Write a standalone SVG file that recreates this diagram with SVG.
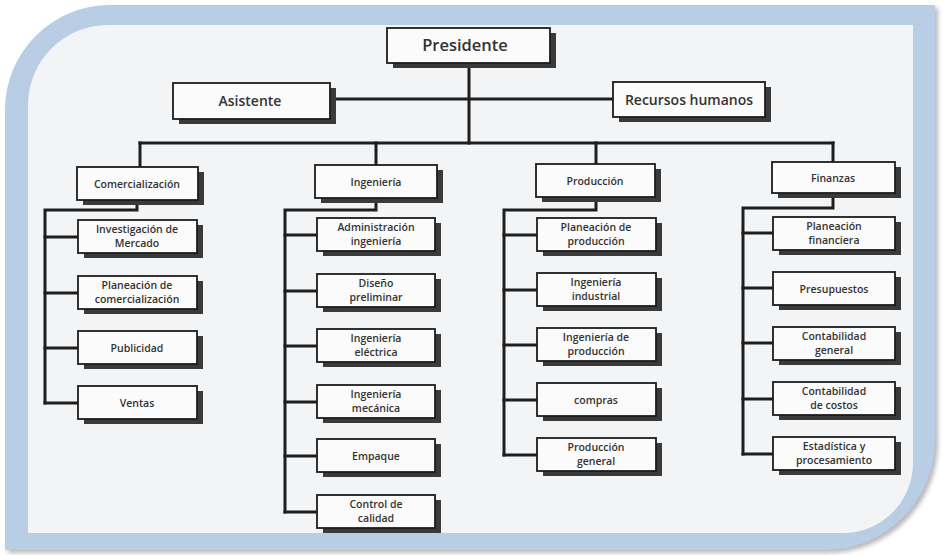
<svg xmlns="http://www.w3.org/2000/svg" width="943" height="555" viewBox="0 0 943 555">
<defs>
<filter id="fs" x="-5%" y="-5%" width="110%" height="110%"><feGaussianBlur stdDeviation="2"/></filter>
<style>
.box{fill:#fbfbfb;stroke:#1c1c1c;stroke-width:1.8}
.sh{fill:#3a3a3a}
.t{font-family:"Open Sans","Liberation Sans",sans-serif;font-size:10.5px;font-weight:600;fill:#333;text-anchor:middle}
.tb{font-size:14px}
.tp{font-size:16.5px}
.c{stroke:#1e1e1e;stroke-width:3;fill:none;stroke-linecap:square}
</style>
</defs>
<rect width="943" height="555" fill="#ffffff"/>
<path d="M8 113 A105 105 0 0 1 113 8 H938 V443 A110 110 0 0 1 828 553 H8 Z" fill="#8a8a8a" opacity="0.6" filter="url(#fs)"/>
<path d="M5 110 A105 105 0 0 1 110 5 H935 V440 A110 110 0 0 1 825 550 H5 Z" fill="#b9cde5"/>
<path d="M28 105 A80 80 0 0 1 108 25 H913 V463 A70 70 0 0 1 843 533 H28 Z" fill="#f3f4f6"/>

<g id="connectors" class="c">
<path d="M469 63 V143"/>
<path d="M330 99 H613"/>
<path d="M140 143 H833"/>
<path d="M140 143 V167 M376 143 V165 M596 143 V164 M833 143 V162"/>
<path d="M137 200 V210 H45 V403"/>
<path d="M45 237 H78 M45 293 H78 M45 348 H78 M45 403 H78"/>
<path d="M376 198 V210 H285 V512"/>
<path d="M285 235 H317 M285 291 H317 M285 346 H317 M285 402 H317 M285 456 H317 M285 512 H317"/>
<path d="M596 197 V210 H504 V455"/>
<path d="M504 235 H537 M504 290 H537 M504 345 H537 M504 400 H537 M504 455 H537"/>
<path d="M833 193 V208 H743 V454"/>
<path d="M743 233 H773 M743 288 H773 M743 343 H773 M743 399 H773 M743 454 H773"/>
</g>

<g id="presidente"><rect class="sh" x="393" y="33" width="163" height="35"/><rect class="box" x="387" y="28" width="163" height="35"/><text class="t tp" x="465" y="51">Presidente</text></g>
<g id="asistente"><rect class="sh" x="179" y="88" width="157" height="36"/><rect class="box" x="173" y="83" width="157" height="36"/><text class="t tb" x="250" y="106">Asistente</text></g>
<g id="rrhh"><rect class="sh" x="619" y="87" width="152" height="35"/><rect class="box" x="613" y="82" width="152" height="35"/><text class="t tb" x="689" y="105">Recursos humanos</text></g>

<g id="comercializacion"><rect class="sh" x="83" y="172" width="121" height="33"/><rect class="box" x="77" y="167" width="121" height="33"/><text class="t" x="137" y="188">Comercialización</text></g>
<g id="ingenieria"><rect class="sh" x="321" y="170" width="122" height="33"/><rect class="box" x="315" y="165" width="122" height="33"/><text class="t" x="376" y="186">Ingeniería</text></g>
<g id="produccion"><rect class="sh" x="542" y="169" width="119" height="33"/><rect class="box" x="536" y="164" width="119" height="33"/><text class="t" x="595" y="185">Producción</text></g>
<g id="finanzas"><rect class="sh" x="778" y="167" width="123" height="31"/><rect class="box" x="772" y="162" width="123" height="31"/><text class="t" x="833" y="182">Finanzas</text></g>

<g id="inv-mercado"><rect class="sh" x="84" y="225" width="119" height="33"/><rect class="box" x="78" y="220" width="119" height="33"/><text class="t" x="137" y="233">Investigación de<tspan x="137" dy="14">Mercado</tspan></text></g>
<g id="plan-com"><rect class="sh" x="84" y="281" width="119" height="33"/><rect class="box" x="78" y="276" width="119" height="33"/><text class="t" x="137" y="289">Planeación de<tspan x="137" dy="14">comercialización</tspan></text></g>
<g id="publicidad"><rect class="sh" x="84" y="336" width="119" height="33"/><rect class="box" x="78" y="331" width="119" height="33"/><text class="t" x="137" y="352">Publicidad</text></g>
<g id="ventas"><rect class="sh" x="84" y="391" width="119" height="33"/><rect class="box" x="78" y="386" width="119" height="33"/><text class="t" x="137" y="407">Ventas</text></g>

<g id="adm-ing"><rect class="sh" x="323" y="223" width="118" height="33"/><rect class="box" x="317" y="218" width="118" height="33"/><text class="t" x="376" y="231">Administración<tspan x="376" dy="14">ingeniería</tspan></text></g>
<g id="diseno"><rect class="sh" x="323" y="279" width="118" height="33"/><rect class="box" x="317" y="274" width="118" height="33"/><text class="t" x="376" y="287">Diseño<tspan x="376" dy="14">preliminar</tspan></text></g>
<g id="ing-elec"><rect class="sh" x="323" y="334" width="118" height="33"/><rect class="box" x="317" y="329" width="118" height="33"/><text class="t" x="376" y="342">Ingeniería<tspan x="376" dy="14">eléctrica</tspan></text></g>
<g id="ing-mec"><rect class="sh" x="323" y="390" width="118" height="33"/><rect class="box" x="317" y="385" width="118" height="33"/><text class="t" x="376" y="398">Ingeniería<tspan x="376" dy="14">mecánica</tspan></text></g>
<g id="empaque"><rect class="sh" x="323" y="444" width="118" height="33"/><rect class="box" x="317" y="439" width="118" height="33"/><text class="t" x="376" y="460">Empaque</text></g>
<g id="control"><rect class="sh" x="323" y="500" width="118" height="33"/><rect class="box" x="317" y="495" width="118" height="33"/><text class="t" x="376" y="508">Control de<tspan x="376" dy="14">calidad</tspan></text></g>

<g id="plan-prod"><rect class="sh" x="543" y="223" width="119" height="33"/><rect class="box" x="537" y="218" width="119" height="33"/><text class="t" x="596" y="231">Planeación de<tspan x="596" dy="14">producción</tspan></text></g>
<g id="ing-ind"><rect class="sh" x="543" y="278" width="119" height="33"/><rect class="box" x="537" y="273" width="119" height="33"/><text class="t" x="596" y="286">Ingeniería<tspan x="596" dy="14">industrial</tspan></text></g>
<g id="ing-prod"><rect class="sh" x="543" y="333" width="119" height="33"/><rect class="box" x="537" y="328" width="119" height="33"/><text class="t" x="596" y="341">Ingeniería de<tspan x="596" dy="14">producción</tspan></text></g>
<g id="compras"><rect class="sh" x="543" y="388" width="119" height="33"/><rect class="box" x="537" y="383" width="119" height="33"/><text class="t" x="596" y="404">compras</text></g>
<g id="prod-gen"><rect class="sh" x="543" y="443" width="119" height="33"/><rect class="box" x="537" y="438" width="119" height="33"/><text class="t" x="596" y="451">Producción<tspan x="596" dy="14">general</tspan></text></g>

<g id="plan-fin"><rect class="sh" x="779" y="222" width="122" height="33"/><rect class="box" x="773" y="217" width="122" height="33"/><text class="t" x="834" y="230">Planeación<tspan x="834" dy="14">financiera</tspan></text></g>
<g id="presupuestos"><rect class="sh" x="779" y="277" width="122" height="33"/><rect class="box" x="773" y="272" width="122" height="33"/><text class="t" x="834" y="293">Presupuestos</text></g>
<g id="cont-gen"><rect class="sh" x="779" y="332" width="122" height="33"/><rect class="box" x="773" y="327" width="122" height="33"/><text class="t" x="834" y="340">Contabilidad<tspan x="834" dy="14">general</tspan></text></g>
<g id="cont-cost"><rect class="sh" x="779" y="387" width="122" height="33"/><rect class="box" x="773" y="382" width="122" height="33"/><text class="t" x="834" y="395">Contabilidad<tspan x="834" dy="14">de costos</tspan></text></g>
<g id="estadistica"><rect class="sh" x="779" y="442" width="122" height="33"/><rect class="box" x="773" y="437" width="122" height="33"/><text class="t" x="834" y="450">Estadística y<tspan x="834" dy="14">procesamiento</tspan></text></g>
</svg>
